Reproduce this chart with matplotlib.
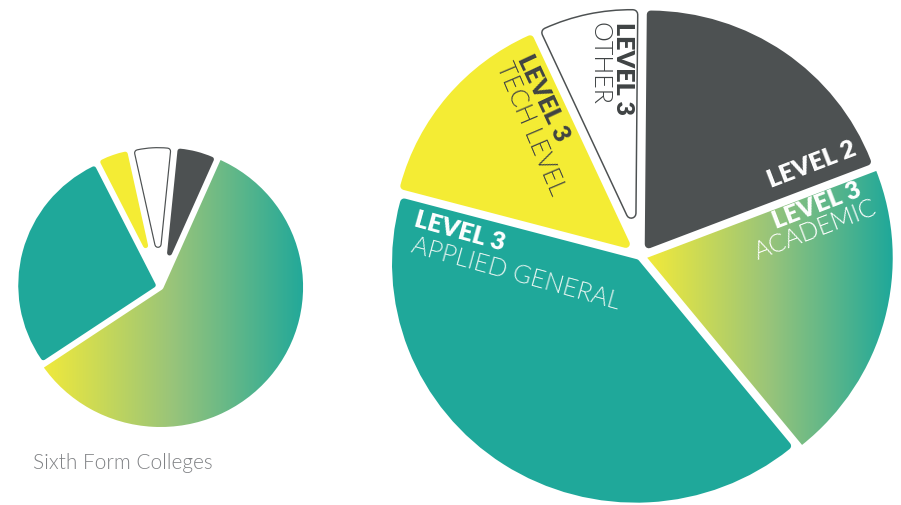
import numpy as np
import matplotlib
matplotlib.use("Agg")
import matplotlib.pyplot as plt
import matplotlib.patheffects as pe
from matplotlib.patches import Wedge
from matplotlib.colors import LinearSegmentedColormap

# ---------------------------------------------------------------- data
categories = ["Level 2", "Level 3 Academic", "Level 3 Applied General",
              "Level 3 Tech Level", "Level 3 Other"]
sixth_form_shares = [5, 59, 27, 4, 5]      # percent, Sixth Form Colleges
cohort_shares = [19, 20, 40, 14, 7]        # percent, larger chart
caption = "Sixth Form Colleges"

# --------------------------------------------------------------- style
TEAL = "#1fa89a"
YELLOW = "#f4ec34"
DARK = "#4d5152"
WHITE = "#ffffff"
TEXT_DARK = "#3f4344"
slice_fills = [DARK, "gradient", TEAL, YELLOW, WHITE]
grad_cmap = LinearSegmentedColormap.from_list(
    "academic", ["#f2ea3a", "#98c47a", "#1fa89a"])

W, H = 901, 505
DPI = 100
PT = 72 / DPI          # points per pixel
SX = 1.018             # slight horizontal stretch of the artwork

BOLD = dict(family=["Lato", "DejaVu Sans"], weight=800)
LIGHT = dict(family=["Lato", "DejaVu Sans"], weight=300)
SIZE = 18

fig = plt.figure(figsize=(W / DPI, H / DPI), dpi=DPI)
ax = fig.add_axes([0, 0, 1, 1])


def rounded_pie(values, center_px, radius, start, gap, corner, outline):
    """Pie with even white gaps and softly rounded slice corners."""
    center = (center_px[0] / SX, H - center_px[1])
    wedges, _ = ax.pie(values, startangle=start, counterclock=False,
                       radius=radius, center=center, frame=True,
                       colors=["none"] * len(values))
    for w, fill in zip(wedges, slice_fills):
        span = w.theta2 - w.theta1
        mid = np.deg2rad((w.theta1 + w.theta2) / 2)
        cx, cy = w.center
        reflex = span >= 180
        if not reflex:
            a = gap / 2
            if fill != "gradient":
                a += corner + (outline if fill == WHITE else 0)
            d = a / np.sin(np.deg2rad(span / 2))
            w.set_center((cx + d * np.cos(mid), cy + d * np.sin(mid)))
            w.set_radius(radius - a - d)
        if fill == "gradient":
            w.set_facecolor("none")
            w.set_edgecolor("none")
            bb = w.get_path().get_extents()
            img = ax.imshow(np.linspace(0, 1, 256)[None, :], cmap=grad_cmap,
                            extent=(bb.x0, bb.x1, bb.y0, bb.y1),
                            aspect="auto", interpolation="bicubic", zorder=1)
            img.set_clip_path(w)
            if reflex:
                ax.add_patch(Wedge(w.center, w.r, w.theta1, w.theta2,
                                   facecolor="none", edgecolor="white",
                                   lw=gap * PT, joinstyle="round", zorder=2))
        else:
            w.set_facecolor(fill)
            w.set_edgecolor(fill)
            w.set_linewidth(2 * corner * PT)
            w.set_joinstyle("round")
            w.set_zorder(3)
            if fill == WHITE:
                w.set_path_effects([
                    pe.Stroke(linewidth=(2 * corner + 2 * outline) * PT,
                              foreground=DARK, joinstyle="round"),
                    pe.Normal()])
    return wedges


def label(x, y, angle, txt, font, color, ha="center", size=SIZE):
    """Slice label; (x, y) is a point on its baseline in pixels."""
    ax.text(x / SX, H - y, txt, rotation=angle, rotation_mode="anchor",
            ha=ha, va="baseline", color=color, fontsize=size, zorder=5,
            **font)


rounded_pie(sixth_form_shares, (160.5, 287), 143, 84.3,
            gap=6, corner=2.5, outline=1.2)
rounded_pie(cohort_shares, (640.5, 256), 252, 89.5,
            gap=8, corner=4, outline=1.5)

# Level 2
label(814, 171, 21, "LEVEL 2", BOLD, "white")
# Level 3 academic
label(819, 212.5, 21, "LEVEL 3", BOLD, "white")
label(818, 237, 21, "ACADEMIC", LIGHT, "white")
# Level 3 applied general
label(457.5, 238.5, -15.5, "LEVEL 3", BOLD, "white")
label(514, 281, -15.5, "APPLIED GENERAL", LIGHT, "#e2f3ef")
# Level 3 tech level
label(537, 101, -65, "LEVEL 3", BOLD, TEXT_DARK)
label(524, 131, -67, "TECH LEVEL", LIGHT, TEXT_DARK)
# Level 3 other
label(616, 22, -90, "LEVEL 3", BOLD, TEXT_DARK, ha="left")
label(592, 22, -90, "OTHER", LIGHT, TEXT_DARK, ha="left")

ax.text(33 / SX, H - 469, caption, ha="left", va="baseline",
        color="#808285", fontsize=15, **LIGHT)

ax.set_aspect("auto")
ax.set_xlim(0, W / SX)
ax.set_ylim(0, H)
ax.axis("off")

fig.savefig("out.png", dpi=DPI, facecolor="white")
